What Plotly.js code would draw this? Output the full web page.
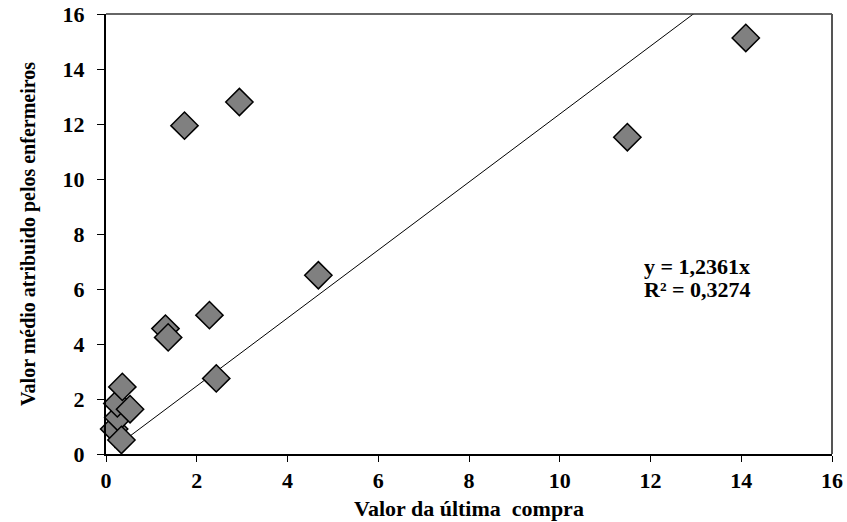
<!DOCTYPE html>
<html>
<head>
<meta charset="utf-8">
<script src="https://cdn.plot.ly/plotly-3.0.1.min.js"></script>
<style>html,body{margin:0;padding:0;background:#fff;}#chart{width:847px;height:522px;}</style>
</head>
<body>
<div id="chart"></div>
<script>
// Data
var lastPurchase = [0.18, 0.27, 0.25, 0.53, 0.36, 0.34, 1.31, 1.37, 2.28, 2.43, 4.68, 1.73, 2.94, 11.49, 14.10];
var nurseValue   = [0.91, 1.33, 1.84, 1.63, 2.44, 0.51, 4.56, 4.24, 5.05, 2.75, 6.50, 11.94, 12.80, 11.52, 15.13];
var slope = 1.2361;
var eqText = "y = 1,2361x";
var r2Text = "R² = 0,3274";
var xTitle = "Valor da última  compra";
var yTitle = "Valor médio atribuido pelos enfermeiros";
var tickVals = [0, 2, 4, 6, 8, 10, 12, 14, 16];

var xmin = Math.min.apply(null, lastPurchase);
var xmax = Math.max.apply(null, lastPurchase);
var trendX = [xmin, xmax];
var trendY = trendX.map(function (v) { return slope * v; });

var FONT = 'Liberation Serif, Times New Roman, serif';
var tickText = tickVals.map(String);

var traces = [
  {
    x: trendX, y: trendY, mode: 'lines', type: 'scatter',
    line: {color: '#000', width: 1}, hoverinfo: 'skip', showlegend: false
  },
  {
    x: lastPurchase, y: nurseValue, mode: 'markers', type: 'scatter',
    marker: {symbol: 'diamond', size: 21, color: '#808080', line: {color: '#000', width: 1.5}},
    showlegend: false, cliponaxis: false
  }
];

var layout = {
  width: 847, height: 522,
  margin: {l: 106, r: 15, t: 14, b: 68},
  paper_bgcolor: '#fff', plot_bgcolor: '#fff',
  font: {family: FONT, color: '#000', weight: 'bold'},
  showlegend: false,
  xaxis: {
    range: [0, 16], tickvals: tickVals, ticktext: tickText,
    showgrid: false, zeroline: false,
    showline: true, linecolor: '#000', linewidth: 2,
    ticks: 'outside', ticklen: 6, tickwidth: 1, tickcolor: '#000',
    tickfont: {family: FONT, size: 22, color: '#000', weight: 'bold'},
    title: {text: xTitle, font: {family: FONT, size: 22, color: '#000', weight: 'bold'}, standoff: 8}
  },
  yaxis: {
    range: [0, 16], tickvals: tickVals, ticktext: tickText,
    showgrid: false, zeroline: false,
    showline: true, linecolor: '#000', linewidth: 2,
    ticks: 'outside', ticklen: 7, tickwidth: 1, tickcolor: '#000',
    ticklabelstandoff: 8,
    tickfont: {family: FONT, size: 22, color: '#000', weight: 'bold'},
    title: {text: yTitle, font: {family: FONT, size: 20, color: '#000', weight: 'bold'}, standoff: 22}
  },
  shapes: [
    {type: 'line', xref: 'paper', yref: 'paper', x0: 0, x1: 1, y0: 1, y1: 1, line: {color: '#333', width: 1.5}},
    {type: 'line', xref: 'paper', yref: 'paper', x0: 1, x1: 1, y0: 0, y1: 1, line: {color: '#555', width: 2}}
  ],
  annotations: [
    {x: 11.81, y: 6.82, xref: 'x', yref: 'y', xanchor: 'left', yanchor: 'middle', showarrow: false,
     text: eqText, font: {family: FONT, size: 22, color: '#000', weight: 'bold'}},
    {x: 11.81, y: 6.0, xref: 'x', yref: 'y', xanchor: 'left', yanchor: 'middle', showarrow: false,
     text: r2Text, font: {family: FONT, size: 22, color: '#000', weight: 'bold'}}
  ]
};

Plotly.newPlot('chart', traces, layout, {displayModeBar: false, staticPlot: true});
</script>
</body>
</html>
